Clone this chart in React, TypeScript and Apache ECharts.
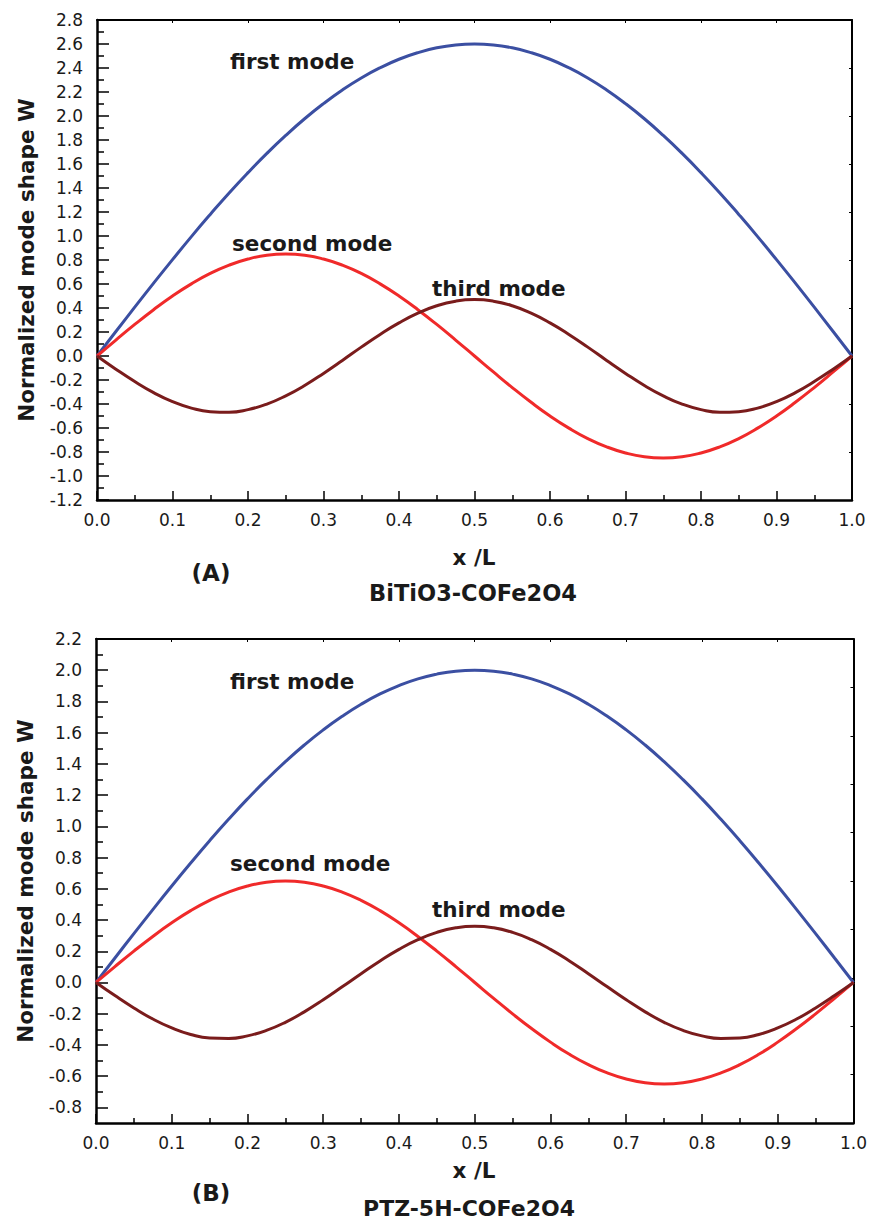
import React, { useEffect, useRef } from "react";
import * as echarts from "echarts";

const xValues = [
  0, 0.025, 0.05, 0.075, 0.1, 0.125, 0.15, 0.175, 0.2, 0.225, 0.25, 0.275, 0.3, 0.325, 0.35, 0.375, 0.4, 0.425, 0.45, 0.475, 0.5,
  0.525, 0.55, 0.575, 0.6, 0.625, 0.65, 0.675, 0.7, 0.725, 0.75, 0.775, 0.8, 0.825, 0.85, 0.875, 0.9, 0.925, 0.95, 0.975, 1.0,
];

const aFirst = [
  0, 0.204, 0.407, 0.607, 0.803, 0.995, 1.18, 1.359, 1.528, 1.688, 1.838, 1.977, 2.103, 2.217, 2.317, 2.402, 2.473, 2.528, 2.568, 2.592, 2.6,
  2.592, 2.568, 2.528, 2.473, 2.402, 2.317, 2.217, 2.103, 1.977, 1.838, 1.688, 1.528, 1.359, 1.18, 0.995, 0.803, 0.607, 0.407, 0.204, 0,
];
const aSecond = [
  0, 0.133, 0.263, 0.386, 0.5, 0.601, 0.688, 0.757, 0.808, 0.84, 0.85, 0.84, 0.808, 0.757, 0.688, 0.601, 0.5, 0.386, 0.263, 0.133, 0,
  -0.133, -0.263, -0.386, -0.5, -0.601, -0.688, -0.757, -0.808, -0.84, -0.85, -0.84, -0.808, -0.757, -0.688, -0.601, -0.5, -0.386, -0.263, -0.133, 0,
];
const aThird = [
  0, -0.11, -0.213, -0.305, -0.38, -0.434, -0.464, -0.469, -0.447, -0.401, -0.332, -0.246, -0.145, -0.037, 0.074, 0.18, 0.276, 0.357, 0.419, 0.457, 0.47,
  0.457, 0.419, 0.357, 0.276, 0.18, 0.074, -0.037, -0.145, -0.246, -0.332, -0.401, -0.447, -0.469, -0.464, -0.434, -0.38, -0.305, -0.213, -0.11, 0,
];

const bFirst = [
  0, 0.157, 0.313, 0.467, 0.618, 0.765, 0.908, 1.045, 1.176, 1.299, 1.414, 1.521, 1.618, 1.705, 1.782, 1.848, 1.902, 1.945, 1.975, 1.994, 2.0,
  1.994, 1.975, 1.945, 1.902, 1.848, 1.782, 1.705, 1.618, 1.521, 1.414, 1.299, 1.176, 1.045, 0.908, 0.765, 0.618, 0.467, 0.313, 0.157, 0,
];
const bSecond = [
  0, 0.102, 0.201, 0.295, 0.382, 0.46, 0.526, 0.579, 0.618, 0.642, 0.65, 0.642, 0.618, 0.579, 0.526, 0.46, 0.382, 0.295, 0.201, 0.102, 0,
  -0.102, -0.201, -0.295, -0.382, -0.46, -0.526, -0.579, -0.618, -0.642, -0.65, -0.642, -0.618, -0.579, -0.526, -0.46, -0.382, -0.295, -0.201, -0.102, 0,
];
const bThird = [
  0, -0.084, -0.163, -0.234, -0.291, -0.333, -0.356, -0.359, -0.342, -0.307, -0.255, -0.188, -0.111, -0.028, 0.056, 0.138, 0.212, 0.274, 0.321, 0.35, 0.36,
  0.35, 0.321, 0.274, 0.212, 0.138, 0.056, -0.028, -0.111, -0.188, -0.255, -0.307, -0.342, -0.359, -0.356, -0.333, -0.291, -0.234, -0.163, -0.084, 0,
];

const modeLabels = ["first mode", "second mode", "third mode"];
const xTitle = "x /L";
const yTitle = "Normalized mode shape W";
const panelTags = ["(A)", "(B)"];
const materials = ["BiTiO3-COFe2O4", "PTZ-5H-COFe2O4"];

const COLORS = ["#3b4fa2", "#f02a2a", "#7a1c1c"];
const FONT = "DejaVu Sans";
const INK = "#1a1a1a";

const gridA = { left: 97, top: 20, width: 755, height: 480 };
const gridB = { left: 96, top: 639, width: 759, height: 484 };
const bMin = -0.9;
const bMax = 2.2;
const bLabelMin = -0.8;

const pair = (ys: number[]) => xValues.map((x, i) => [x, ys[i]]);

export default function App() {
  const ref = useRef<HTMLDivElement>(null);
  useEffect(() => {
    document.body.style.margin = "0";
    const chart = echarts.init(ref.current!, null, { renderer: "svg" });
    const overlayHeight = (gridB.height * (bMax - bLabelMin)) / (bMax - bMin);

    const bottomX = (gridIndex: number) => ({
      type: "value",
      gridIndex,
      min: 0,
      max: 1,
      interval: 0.1,
      position: "bottom",
      axisLine: { onZero: false, lineStyle: { color: "#000", width: 2.5 } },
      axisTick: { inside: true, length: 9, lineStyle: { color: "#000", width: 1.5 } },
      minorTick: { show: true, splitNumber: 2, length: 5, lineStyle: { color: "#000", width: 1.5 } },
      axisLabel: {
        fontFamily: FONT,
        fontSize: 17,
        color: INK,
        margin: 11,
        formatter: (v: number) => v.toFixed(1),
      },
      splitLine: { show: false },
    });
    const topX = (gridIndex: number) => ({
      type: "value",
      gridIndex,
      min: 0,
      max: 1,
      interval: 0.1,
      position: "top",
      axisLine: { onZero: false, lineStyle: { color: "#000", width: 2 } },
      axisTick: { inside: true, length: 3, lineStyle: { color: "#000", width: 1 } },
      axisLabel: { show: false },
      splitLine: { show: false },
    });
    const rightY = (gridIndex: number) => ({
      type: "value",
      gridIndex,
      min: 0,
      max: 10,
      interval: 1,
      position: "right",
      axisLine: { show: true, onZero: false, lineStyle: { color: "#000", width: 2 } },
      axisTick: { show: true, inside: true, length: 3, lineStyle: { color: "#000", width: 1 } },
      axisLabel: { show: false },
      splitLine: { show: false },
    });
    const yName = {
      name: yTitle,
      nameLocation: "middle",
      nameGap: 60,
      nameRotate: 90,
      nameTextStyle: { fontFamily: FONT, fontSize: 21.5, fontWeight: "bold", color: INK },
    };
    const labelY = {
      axisTick: { show: true, inside: true, length: 12, lineStyle: { color: "#000", width: 1.5 } },
      minorTick: { show: true, splitNumber: 2, length: 7, lineStyle: { color: "#000", width: 1.5 } },
      axisLabel: {
        fontFamily: FONT,
        fontSize: 17,
        color: INK,
        margin: 14,
        formatter: (v: number) => v.toFixed(1),
      },
      splitLine: { show: false },
    };

    const line = (xAxisIndex: number, yAxisIndex: number, name: string, ys: number[], color: string) => ({
      type: "line",
      name,
      xAxisIndex,
      yAxisIndex,
      data: pair(ys),
      smooth: 0.5,
      showSymbol: false,
      symbol: "none",
      lineStyle: { color, width: 3 },
      z: 3,
    });

    const txt = (text: string, x: number, y: number, size: number, align = "left") => ({
      type: "text",
      style: {
        text,
        x,
        y,
        fill: INK,
        font: `bold ${size}px "${FONT}"`,
        textAlign: align,
        textVerticalAlign: "middle",
      },
    });

    const option: any = {
      animation: false,
      backgroundColor: "#fff",
      grid: [
        { ...gridA, containLabel: false },
        { ...gridB, containLabel: false },
        { left: gridB.left, top: gridB.top, width: gridB.width, height: overlayHeight, containLabel: false },
      ],
      xAxis: [
        bottomX(0),
        topX(0),
        bottomX(1),
        topX(1),
        { type: "value", gridIndex: 2, min: 0, max: 1, show: false },
      ],
      yAxis: [
        {
          type: "value",
          gridIndex: 0,
          min: -1.2,
          max: 2.8,
          interval: 0.2,
          position: "left",
          axisLine: { show: true, onZero: false, lineStyle: { color: "#000", width: 2.5 } },
          ...labelY,
          ...yName,
        },
        rightY(0),
        {
          type: "value",
          gridIndex: 1,
          min: bMin,
          max: bMax,
          position: "left",
          axisLine: { show: true, onZero: false, lineStyle: { color: "#000", width: 2.5 } },
          axisTick: { show: false },
          axisLabel: { show: false },
          splitLine: { show: false },
          ...yName,
        },
        rightY(1),
        {
          type: "value",
          gridIndex: 2,
          min: bLabelMin,
          max: bMax,
          interval: 0.2,
          position: "left",
          axisLine: { show: false, onZero: false },
          ...labelY,
        },
      ],
      series: [
        line(0, 0, modeLabels[0] + " A", aFirst, COLORS[0]),
        line(0, 0, modeLabels[1] + " A", aSecond, COLORS[1]),
        line(0, 0, modeLabels[2] + " A", aThird, COLORS[2]),
        line(2, 2, modeLabels[0] + " B", bFirst, COLORS[0]),
        line(2, 2, modeLabels[1] + " B", bSecond, COLORS[1]),
        line(2, 2, modeLabels[2] + " B", bThird, COLORS[2]),
      ],
      graphic: [
        txt(modeLabels[0], 230, 61, 21.5),
        txt(modeLabels[1], 232, 243, 21.5),
        txt(modeLabels[2], 432, 288, 21.5),
        txt(xTitle, 474, 557, 21.5, "center"),
        txt(panelTags[0], 211, 573, 23, "center"),
        txt(materials[0], 473, 593, 22.5, "center"),
        txt(modeLabels[0], 230, 681, 21.5),
        txt(modeLabels[1], 230, 863, 21.5),
        txt(modeLabels[2], 432, 909, 21.5),
        txt(xTitle, 474, 1170, 21.5, "center"),
        txt(panelTags[1], 211, 1193, 23, "center"),
        txt(materials[1], 469, 1208, 22, "center"),
      ],
    };
    chart.setOption(option);
    return () => chart.dispose();
  }, []);
  return <div ref={ref} style={{ width: 870, height: 1223 }} />;
}
